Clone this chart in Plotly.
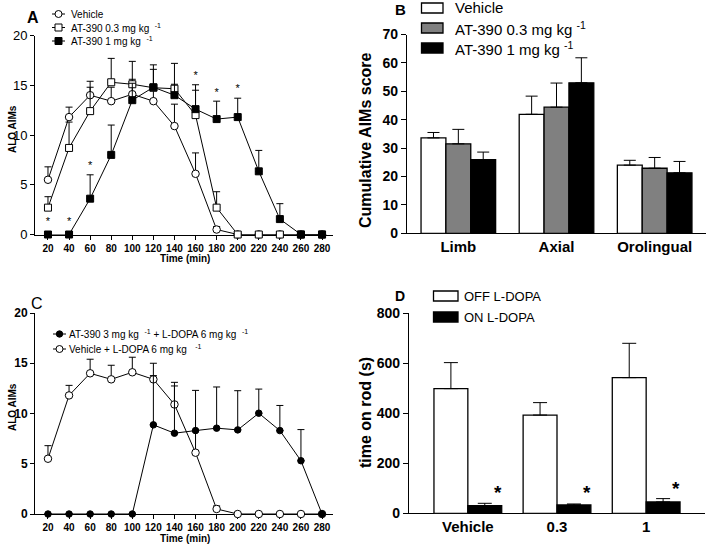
import plotly.graph_objects as go

W, H = 709, 546
FONT = "Arial, Liberation Sans, sans-serif"

# ---------------- data ----------------
time_min = [20, 40, 60, 80, 100, 120, 140, 160, 180, 200, 220, 240, 260, 280]

# Panel A: ALO AIMs over time (mean, upper SEM)
a_vehicle = [5.5, 11.8, 14.0, 13.4, 14.1, 13.4, 10.9, 6.1, 0.5, 0, 0, 0, 0, 0]
a_vehicle_sem = [1.3, 1.0, 1.4, 1.4, 1.5, 1.6, 2.2, 2.1, 0.3, None, None, None, None, None]
a_at03 = [2.7, 8.7, 12.4, 15.3, 15.1, 14.75, 14.65, 12.0, 2.7, 0, 0, 0, 0, 0]
a_at03_sem = [1.1, 2.6, 2.4, 2.4, 2.3, 2.3, 2.55, 2.5, 1.6, None, None, None, None, None]
a_at1 = [0, 0, 3.6, 8.0, 13.5, 14.8, 14.0, 12.6, 11.6, 11.8, 6.35, 1.55, 0, 0]
a_at1_sem = [None, None, 2.4, 3.0, 1.7, 1.8, 1.1, 2.45, 1.8, 1.9, 2.1, 1.55, None, None]
a_star_x = [20, 40, 60, 160, 180, 200]
a_star_y = [1.2, 1.2, 6.9, 15.9, 14.2, 14.6]

# Panel B: cumulative AIMs score
b_cats = ["Limb", "Axial", "Orolingual"]
b_vehicle = [33.6, 41.9, 24.0]
b_vehicle_sem = [1.9, 6.4, 1.7]
b_at03 = [31.5, 44.4, 22.9]
b_at03_sem = [5.1, 8.5, 3.8]
b_at1 = [25.9, 53.0, 21.3]
b_at1_sem = [2.7, 8.8, 4.0]

# Panel C: ALO AIMs over time, with L-DOPA
c_at3 = [0, 0, 0, 0, 0, 8.87, 8.04, 8.3, 8.54, 8.37, 10.03, 8.3, 5.3, 0]
c_at3_sem = [None, None, None, None, None, 4.9, 4.7, 4.0, 4.1, 3.9, 2.4, 2.5, 3.1, None]
c_vehicle = [5.5, 11.8, 14.0, 13.4, 14.1, 13.4, 10.9, 6.1, 0.5, 0, 0, 0, 0, 0]
c_vehicle_sem = [1.3, 1.0, 1.4, 1.4, 1.5, 1.6, 2.2, 2.1, 0.3, None, None, None, None, None]

# Panel D: rotarod
d_cats = ["Vehicle", "0.3", "1"]
d_off = [498.7, 393.0, 542.7]
d_off_sem = [104.0, 49.7, 137.3]
d_on = [30.7, 33.3, 45.3]
d_on_sem = [9.3, 4.0, 13.4]
d_star_y = [83, 83, 100]

x_ticks = time_min


def px(x):
    return x / W


def py(y):
    return 1 - y / H


def up_err(sem, width=3.5):
    return dict(type="data", array=sem, symmetric=False,
                arrayminus=[0] * len(sem), color="black",
                thickness=1, width=width, visible=True)


fig = go.Figure()

# ---------------- Panel A ----------------
line_kw = dict(color="black", width=1)
fig.add_trace(go.Scatter(x=time_min, y=a_vehicle, mode="lines+markers",
                         name="Vehicle", line=line_kw,
                         marker=dict(symbol="circle", size=7.5, color="white",
                                     line=dict(color="black", width=1)),
                         error_y=up_err(a_vehicle_sem), cliponaxis=False,
                         xaxis="x", yaxis="y", showlegend=False))
fig.add_trace(go.Scatter(x=time_min, y=a_at03, mode="lines+markers",
                         name="AT-390 0.3 mg kg-1", line=line_kw,
                         marker=dict(symbol="square", size=7, color="white",
                                     line=dict(color="black", width=1)),
                         error_y=up_err(a_at03_sem), cliponaxis=False,
                         xaxis="x", yaxis="y", showlegend=False))
fig.add_trace(go.Scatter(x=time_min, y=a_at1, mode="lines+markers",
                         name="AT-390 1 mg kg-1", line=line_kw,
                         marker=dict(symbol="square", size=7, color="black",
                                     line=dict(color="black", width=1)),
                         error_y=up_err(a_at1_sem), cliponaxis=False,
                         xaxis="x", yaxis="y", showlegend=False))
fig.add_trace(go.Scatter(x=a_star_x, y=a_star_y, mode="text", text=["*"] * len(a_star_x),
                         textfont=dict(family=FONT, size=11, color="black"),
                         cliponaxis=False, xaxis="x", yaxis="y", showlegend=False,
                         hoverinfo="skip"))

# ---------------- Panel B ----------------
b_series = [("Vehicle", b_vehicle, b_vehicle_sem, "white"),
            ("AT-390 0.3 mg kg-1", b_at03, b_at03_sem, "#808080"),
            ("AT-390 1 mg kg-1", b_at1, b_at1_sem, "black")]
for name, vals, sem, col in b_series:
    fig.add_trace(go.Bar(x=b_cats, y=vals, name=name,
                         marker=dict(color=col, line=dict(color="black", width=1.3)),
                         error_y=up_err(sem, width=6), xaxis="x2", yaxis="y2",
                         showlegend=False))

# ---------------- Panel C ----------------
fig.add_trace(go.Scatter(x=time_min, y=c_vehicle, mode="lines+markers",
                         name="Vehicle + L-DOPA 6 mg kg-1", line=line_kw,
                         marker=dict(symbol="circle", size=7.5, color="white",
                                     line=dict(color="black", width=1)),
                         error_y=up_err(c_vehicle_sem), cliponaxis=False,
                         xaxis="x3", yaxis="y3", showlegend=False))
fig.add_trace(go.Scatter(x=time_min, y=c_at3, mode="lines+markers",
                         name="AT-390 3 mg kg-1 + L-DOPA 6 mg kg-1", line=line_kw,
                         marker=dict(symbol="circle", size=6.5, color="black",
                                     line=dict(color="black", width=1)),
                         error_y=up_err(c_at3_sem), cliponaxis=False,
                         xaxis="x3", yaxis="y3", showlegend=False))

# ---------------- Panel D ----------------
fig.add_trace(go.Bar(x=d_cats, y=d_off, name="OFF L-DOPA",
                     marker=dict(color="white", line=dict(color="black", width=1.3)),
                     error_y=up_err(d_off_sem, width=7), xaxis="x4", yaxis="y4",
                     showlegend=False))
fig.add_trace(go.Bar(x=d_cats, y=d_on, name="ON L-DOPA",
                     marker=dict(color="black", line=dict(color="black", width=1.3)),
                     error_y=up_err(d_on_sem, width=7), xaxis="x4", yaxis="y4",
                     showlegend=False))

annotations = []
for i, yv in enumerate(d_star_y):
    annotations.append(dict(x=i, y=yv, xref="x4", yref="y4", text="*", showarrow=False,
                            xshift=30, font=dict(family=FONT, size=19, color="black",
                                                 weight="bold")))

# ---------------- axes ----------------
axis_common = dict(showgrid=False, zeroline=False, showline=True, linecolor="black",
                   linewidth=1, ticks="outside", tickcolor="black", layer="below traces",
                   automargin=False)

tl_font = dict(family=FONT, size=10, color="black", weight="bold")

fig.update_layout(
    xaxis=dict(axis_common, domain=[px(35), px(333)], range=[7.7, 290.4],
               tickvals=x_ticks, ticklen=4, tickfont=tl_font, anchor="y"),
    yaxis=dict(axis_common, domain=[py(234.5), py(35.5)], range=[0, 20],
               tickvals=[0, 5, 10, 15, 20], ticklen=4,
               tickfont=dict(family=FONT, size=13, color="black"), anchor="x"),
    xaxis2=dict(axis_common, domain=[px(407), px(706)], range=[-0.523, 2.523],
                type="category", ticks="", tickfont=dict(family=FONT, size=15, color="black", weight="bold"),
                anchor="y2", linewidth=1.3),
    yaxis2=dict(axis_common, domain=[py(233.3), py(34.5)], range=[0, 70],
                tickvals=[0, 10, 20, 30, 40, 50, 60, 70], ticklen=5, linewidth=1.3,
                tickfont=dict(family=FONT, size=14, color="black", weight="bold"), anchor="x2"),
    xaxis3=dict(axis_common, domain=[px(35), px(333)], range=[7.7, 290.4],
                tickvals=x_ticks, ticklen=4, tickfont=tl_font, anchor="y3"),
    yaxis3=dict(axis_common, domain=[py(514), py(313)], range=[0, 20],
                tickvals=[0, 5, 10, 15, 20], ticklen=4,
                tickfont=dict(family=FONT, size=12, color="black", weight="bold"), anchor="x3"),
    xaxis4=dict(axis_common, domain=[px(409), px(705)], range=[-0.66, 2.66],
                type="category", ticks="", tickfont=dict(family=FONT, size=15, color="black", weight="bold"),
                anchor="y4", linewidth=1.3),
    yaxis4=dict(axis_common, domain=[py(513.3), py(313.3)], range=[0, 800],
                tickvals=[0, 200, 400, 600, 800], ticklen=5, linewidth=1.3,
                tickfont=dict(family=FONT, size=14, color="black", weight="bold"), anchor="x4"),
)

# ---------------- manual legends, labels ----------------
shapes = []


def legend_line_marker(xc, yc, symbol, filled, half_line=6.5, r=3.5):
    shapes.append(dict(type="line", xref="paper", yref="paper",
                       x0=px(xc - half_line), x1=px(xc + half_line), y0=py(yc), y1=py(yc),
                       line=dict(color="black", width=1)))
    shp = "circle" if symbol == "circle" else "rect"
    shapes.append(dict(type=shp, xref="paper", yref="paper",
                       x0=px(xc - r), x1=px(xc + r), y0=py(yc + r), y1=py(yc - r),
                       line=dict(color="black", width=1),
                       fillcolor="black" if filled else "white"))


def legend_box(x0, x1, yc, h, color):
    shapes.append(dict(type="rect", xref="paper", yref="paper",
                       x0=px(x0), x1=px(x1), y0=py(yc + h / 2), y1=py(yc - h / 2),
                       line=dict(color="black", width=1.3), fillcolor=color))


def text(x, y, s, size, bold=False, anchor="left", angle=0):
    annotations.append(dict(x=px(x), y=py(y), xref="paper", yref="paper", text=s,
                            showarrow=False, xanchor=anchor, yanchor="middle",
                            textangle=angle,
                            font=dict(family=FONT, size=size, color="black",
                                      weight="bold" if bold else "normal")))


SUP = "<sup>-1</sup>"
# Panel A legend
legend_line_marker(58.5, 14, "circle", False)
legend_line_marker(58.5, 27.5, "square", False)
legend_line_marker(58.5, 41, "square", True)
text(69, 14, "Vehicle", 10)
text(69, 27.5, "AT-390 0.3 mg kg  " + SUP, 10)
text(69, 41, "AT-390 1 mg kg  " + SUP, 10)

# Panel B legend
legend_box(421.5, 443, 8, 10, "white")
legend_box(421.5, 443, 28, 10, "#808080")
legend_box(421.5, 443, 48, 10, "black")
text(453, 8, "Vehicle", 15)
text(453, 28, "AT-390 0.3 mg kg " + SUP, 15)
text(453, 48, "AT-390 1 mg kg " + SUP, 15)

# Panel C legend
legend_line_marker(59.5, 334, "circle", True, r=3.2)
legend_line_marker(59.5, 349, "circle", False)
text(67, 334, "AT-390 3 mg kg  " + SUP + " + L-DOPA 6 mg kg  " + SUP, 10)
text(67, 349, "Vehicle + L-DOPA 6 mg kg   " + SUP, 10)

# Panel D legend
legend_box(433.5, 458, 296, 10, "white")
legend_box(433.5, 458, 317, 10, "black")
text(462, 296, "OFF L-DOPA", 13)
text(462, 317, "ON L-DOPA", 13)

# Panel letters
text(33, 17, "A", 16, bold=True, anchor="center")
text(400, 9, "B", 15, bold=True, anchor="center")
text(37, 303, "C", 16, anchor="center")
text(400, 296, "D", 14, bold=True, anchor="center")

# Axis titles
text(12, 129, "ALO AIMs", 10, bold=True, anchor="center", angle=-90)
text(185, 258, "Time (min)", 10, bold=True, anchor="center")
text(365, 140, "Cumulative AIMs score", 16, bold=True, anchor="center", angle=-90)
text(12, 407, "ALO AIMs", 10, bold=True, anchor="center", angle=-90)
text(185, 538, "Time (min)", 10, bold=True, anchor="center")
text(365, 413, "time on rod (s)", 16, bold=True, anchor="center", angle=-90)

fig.update_layout(
    template="none",
    width=W, height=H, margin=dict(l=0, r=0, t=0, b=0, pad=0, autoexpand=False),
    paper_bgcolor="white", plot_bgcolor="white",
    barmode="group", bargap=0.24, bargroupgap=0,
    font=dict(family=FONT, color="black"),
    showlegend=False, shapes=shapes, annotations=annotations,
)

fig.write_html("out.html", config={"displayModeBar": False},
               post_script="document.body.style.margin='0';document.body.style.overflow='hidden';")
